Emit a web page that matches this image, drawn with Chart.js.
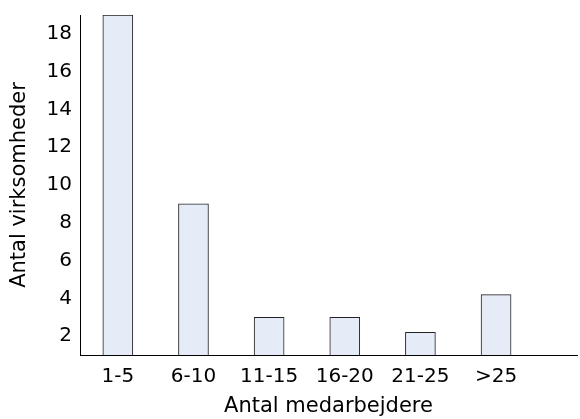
<!DOCTYPE html>
<html>
<head>
<meta charset="utf-8">
<script src="https://cdn.jsdelivr.net/npm/chart.js@4.4.1/dist/chart.umd.min.js"></script>
<style>
  html, body { margin: 0; padding: 0; background: #fff; }
  canvas { display: block; }
</style>
</head>
<body>
<canvas id="chartMedarbejdere" width="580" height="419"></canvas>
<script>
// === Data ===
const kategorier = ["1-5", "6-10", "11-15", "16-20", "21-25", ">25"];
const antal = [19, 9, 3, 3, 2.2, 4.2];
const yTicks = [2, 4, 6, 8, 10, 12, 14, 16, 18];

const tekst = "#000";
const fyld = "#e6ecf7";
const kant = "#222";

new Chart(document.getElementById("chartMedarbejdere"), {
  type: "bar",
  data: {
    datasets: [{
      label: "Antal virksomheder",
      data: antal.map((v, i) => ({ x: i, y: v })),
      backgroundColor: fyld,
      borderColor: kant,
      borderWidth: 1,
      barThickness: 30
    }]
  },
  options: {
    responsive: false,
    animation: false,
    layout: {
      padding: { top: 15, right: 3, left: 0, bottom: 0 }
    },
    plugins: {
      legend: { display: false },
      tooltip: { enabled: false }
    },
    scales: {
      x: {
        type: "linear",
        offset: false,
        min: -0.5,
        max: 6.07,
        grid: { display: false, drawTicks: false },
        border: { display: true, color: "#000", width: 1 },
        afterBuildTicks: (scale) => {
          scale.ticks = kategorier.map((_, i) => ({ value: i }));
        },
        afterFit: (scale) => {
          scale.height = 64;
          scale.paddingLeft = 0;
          scale.paddingRight = 0;
        },
        ticks: {
          color: tekst,
          padding: 10,
          maxRotation: 0,
          autoSkip: false,
          font: { family: "DejaVu Sans", size: 20 },
          callback: (value) => kategorier[value] ?? ""
        },
        title: {
          display: true,
          text: "Antal medarbejdere",
          color: tekst,
          padding: { top: 0, bottom: 0 },
          font: { family: "DejaVu Sans", size: 21 }
        }
      },
      y: {
        min: 1,
        max: 19,
        grid: { display: false, drawTicks: false },
        border: { display: true, color: "#000", width: 1 },
        afterBuildTicks: (scale) => {
          scale.ticks = yTicks.map((v) => ({ value: v }));
        },
        afterFit: (scale) => {
          scale.width = 80;
          scale.paddingTop = 0;
          scale.paddingBottom = 0;
        },
        ticks: {
          color: tekst,
          padding: 8,
          font: { family: "DejaVu Sans", size: 20 }
        },
        title: {
          display: true,
          text: "Antal virksomheder",
          color: tekst,
          padding: { top: 7, bottom: 0 },
          font: { family: "DejaVu Sans", size: 21 }
        }
      }
    }
  }
});
</script>
</body>
</html>
